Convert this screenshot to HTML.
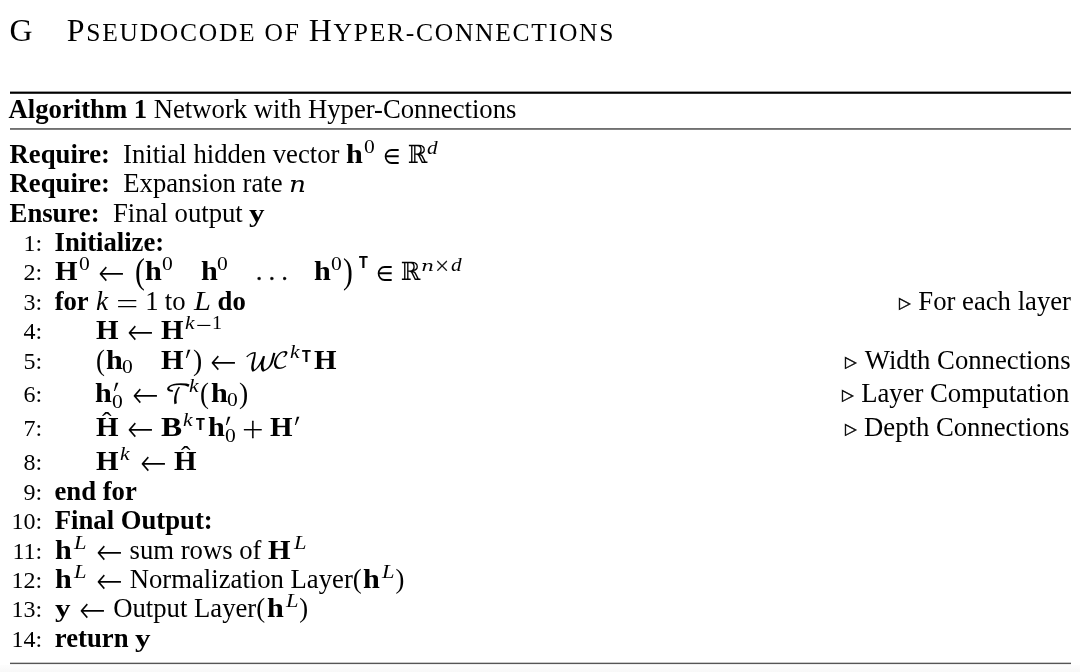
<!DOCTYPE html>
<html lang="en">
<head>
<meta charset="utf-8">
<title>Pseudocode of Hyper-connections</title>
<style>
html,body{margin:0;padding:0;background:#fff;}
body{filter:blur(0.4px);width:1080px;height:672px;position:relative;overflow:hidden;color:#000;
  font-family:"Liberation Serif","DejaVu Serif",serif;font-size:26.5px;}
.ln{position:absolute;left:0;width:1080px;height:30px;line-height:30px;white-space:nowrap;}
.t{position:absolute;top:0;height:30px;line-height:30px;white-space:pre;}
.t>*{line-height:0;}
.rule{position:absolute;left:10px;width:1060.7px;background:#000;}
b{font-weight:bold;}
.g{display:inline-block;line-height:0;transform-origin:0 0;}
h1{position:absolute;margin:0;left:9.5px;top:13px;font-weight:normal;font-size:31.9px;line-height:36px;white-space:nowrap;letter-spacing:1.75px;}
h1 .sc{font-size:25.5px;}
h1 .gap{display:inline-block;width:32.5px;}
.shade{position:absolute;left:0;top:665px;width:1080px;height:7px;background:linear-gradient(#fdfdfd,#f8f8f8);}
.bH{font:bold 27.5px/0 "Liberation Serif","DejaVu Serif",serif;transform:translateY(-0.15px) scale(1.054,1.022) ;}
.bh{font:bold 26.5px/0 "Liberation Serif","DejaVu Serif",serif;transform:translateY(-0.00px) scale(1.141,1.000) ;}
.bB{font:bold 27.5px/0 "Liberation Serif","DejaVu Serif",serif;transform:translateY(-0.15px) scale(1.153,1.022) ;}
.by{font:bold 26.5px/0 "Liberation Serif","DejaVu Serif",serif;transform:translateY(-0.00px) scale(1.176,0.972) ;}
.ik{font:italic 26.5px/0 "Liberation Serif","DejaVu Serif",serif;transform:translateY(-0.15px) scale(1.031,0.995) ;}
.in{font:italic 22.7px/0 "DejaVu Serif",serif;transform:translateY(0.20px) scale(1.165,0.963) ;}
.iL{font:italic 26.5px/0 "Liberation Serif","DejaVu Serif",serif;transform:translateY(-0.35px) scale(1.149,1.034) ;}
.s0{font:18.6px/0 "Liberation Serif","DejaVu Serif",serif;transform:translateY(0.15px) scale(1.161,0.973) ;}
.s1{font:18.6px/0 "Liberation Serif","DejaVu Serif",serif;transform:translateY(0.15px) scale(1.081,0.988) ;}
.sk{font:italic 18.6px/0 "Liberation Serif","DejaVu Serif",serif;transform:translateY(-0.05px) scale(1.150,0.985) ;}
.sn{font:italic 16px/0 "DejaVu Serif",serif;transform:translateY(0.40px) scale(1.275,0.953) ;}
.sd{font:italic 18.6px/0 "Liberation Serif","DejaVu Serif",serif;transform:translateY(-0.00px) scale(1.143,0.996) ;}
.sL{font:italic 18.6px/0 "Liberation Serif","DejaVu Serif",serif;transform:translateY(0.05px) scale(1.210,0.996) ;}
.sx{font:200 18.6px/0 "DejaVu Sans",sans-serif;-webkit-text-stroke:0.25px #000;transform:translateY(1.15px) scale(1.040,1.000) ;}
.sm{font:200 18.6px/0 "DejaVu Sans",sans-serif;transform:translateY(1.80px) scale(1.132,1.467) ;}
.sT{font:bold 17px/0 "Liberation Sans","DejaVu Sans",sans-serif;-webkit-text-stroke:0.2px #000;transform:translateY(-0.10px) scale(0.839,1.008) ;}
.n1{font:26.7px/0 "Liberation Serif","DejaVu Serif",serif;}
.eq{font:200 26.5px/0 "DejaVu Sans",sans-serif;transform:translateY(1.95px) scale(1.099,1.333) ;}
.pl{font:200 26.5px/0 "DejaVu Sans",sans-serif;-webkit-text-stroke:0.25px #000;transform:translateY(1.90px) scale(1.063,1.035) ;}
.ar{font:200 26.5px/0 "DejaVu Sans",sans-serif;transform:translateY(1.65px) scale(1.200,1.371) ;}
.el{font:22px/0 "DejaVu Math TeX Gyre","DejaVu Serif",serif;transform:translateY(-0.70px) scale(0.982,1.086) ;}
.RR{font:24.5px/0 "DejaVu Math TeX Gyre","DejaVu Serif",serif;transform:translateY(-0.25px) scale(0.961,1.028) ;}
.lp{font:29.7px/0 "Liberation Serif","DejaVu Serif",serif;transform:translateY(0.70px) scale(0.903,1.002) ;}
.rp{font:29.7px/0 "Liberation Serif","DejaVu Serif",serif;transform:translateY(0.70px) scale(0.933,1.002) ;}
.Lp{font:36px/0 "Liberation Serif","DejaVu Serif",serif;transform:translateY(2.50px) scale(0.822,1.000) ;}
.Rp{font:36px/0 "Liberation Serif","DejaVu Serif",serif;transform:translateY(2.50px) scale(0.822,1.000) ;}
.pr{font:30px/0 "Liberation Serif","DejaVu Serif",serif;transform:translateY(1.80px) scale(0.880,1.186) skewX(-12deg);}
.cW{font:26.5px/0 "DejaVu Math TeX Gyre","DejaVu Serif",serif;transform:translateY(1.25px) scale(1.016,0.921) ;}
.cC{font:24px/0 "DejaVu Math TeX Gyre","DejaVu Serif",serif;transform:translateY(0.35px) scale(0.993,0.989) ;}
.cT{font:26.5px/0 "DejaVu Math TeX Gyre","DejaVu Serif",serif;transform:translateY(1.60px) scale(0.976,1.002) ;}
.ht{font:27px/0 "Liberation Serif","DejaVu Serif",serif;transform:translateY(-5.45px) scale(1.059,1.050) ;}
.tr{font:16px/0 "DejaVu Sans",sans-serif;-webkit-text-stroke:0.5px #000;transform:translateY(-2.20px) scale(0.946,0.977) ;}
.dt{font:25px/0 "Liberation Serif","DejaVu Serif",serif;letter-spacing:6.5px;-webkit-text-stroke:0.3px #000;}
.no{font:24px/0 "Liberation Serif","DejaVu Serif",serif;}
.tx{font:26.7px/0 "Liberation Serif","DejaVu Serif",serif;}
.tb{font:bold 26.7px/0 "Liberation Serif","DejaVu Serif",serif;}
</style>
</head>
<body>
<h1>G<span class="gap"> </span>P<span class="sc">SEUDOCODE OF </span>H<span class="sc">YPER-CONNECTIONS</span></h1>
<div class="rule" style="top:91px;height:3px;background:linear-gradient(#999 0,#999 1px,#000 1px,#000 2px,#333 2px,#333 3px)"></div>
<div class="rule" style="top:128px;height:2px;background:linear-gradient(#707070 0,#707070 1px,#808080 1px,#808080 2px)"></div>
<div class="ln" style="top:94.00px"> <span class="t" style="left:8.55px"><span class="g tb">Algorithm 1</span></span>  <span class="t" style="left:153.75px"><span class="g tx">Network with Hyper-Connections</span></span> </div>
<div class="ln" style="top:139.00px"> <span class="t" style="left:9.60px"><span class="g tb">Require:</span></span>  <span class="t" style="left:123.00px"><span class="g tx">Initial hidden vector</span></span> <span class="t" style="left:346.15px"><span class="g bh">h</span></span><span class="t" style="left:364.25px;top:-9.80px"><span class="g s0">0</span></span><span class="t" style="left:382.65px"><span class="g el">∈</span></span><span class="t" style="left:406.55px"><span class="g RR">ℝ</span></span><span class="t" style="left:427.35px;top:-9.10px"><span class="g sd">d</span></span></div>
<div class="ln" style="top:168.00px"> <span class="t" style="left:9.60px"><span class="g tb">Require:</span></span>  <span class="t" style="left:123.25px"><span class="g tx">Expansion rate</span></span> <span class="t" style="left:288.95px"><span class="g in">n</span></span></div>
<div class="ln" style="top:198.00px"> <span class="t" style="left:9.60px"><span class="g tb">Ensure:</span></span>  <span class="t" style="left:113.00px"><span class="g tx">Final output</span></span> <span class="t" style="left:249.45px"><span class="g by">y</span></span></div>
<div class="ln" style="top:227.00px"> <span class="t" style="left:23.45px"><span class="g no">1:</span></span>  <span class="t" style="left:54.50px"><span class="g tb">Initialize:</span></span> </div>
<div class="ln" style="top:256.00px"> <span class="t" style="left:23.45px"><span class="g no">2:</span></span> <span class="t" style="left:55.25px"><span class="g bH">H</span></span><span class="t" style="left:79.25px;top:-9.80px"><span class="g s0">0</span></span><span class="t" style="left:98.20px"><span class="g ar">←</span></span><span class="t" style="left:135.45px"><span class="g Lp">(</span></span><span class="t" style="left:145.45px"><span class="g bh">h</span></span><span class="t" style="left:162.15px;top:-9.80px"><span class="g s0">0</span></span><span class="t" style="left:200.65px"><span class="g bh">h</span></span><span class="t" style="left:217.45px;top:-9.80px"><span class="g s0">0</span></span><span class="t" style="left:256.00px"><span class="g dt">...</span></span><span class="t" style="left:314.25px"><span class="g bh">h</span></span><span class="t" style="left:331.15px;top:-9.80px"><span class="g s0">0</span></span><span class="t" style="left:343.20px"><span class="g Rp">)</span></span><span class="t" style="left:358.60px;top:-12.40px"><span class="g sT">T</span></span><span class="t" style="left:376.25px"><span class="g el">∈</span></span><span class="t" style="left:400.15px"><span class="g RR">ℝ</span></span><span class="t" style="left:420.50px;top:-8.90px"><span class="g sn">n</span></span><span class="t" style="left:433.80px;top:-8.90px"><span class="g sx">×</span></span><span class="t" style="left:450.75px;top:-8.90px"><span class="g sd">d</span></span></div>
<div class="ln" style="top:286.00px"> <span class="t" style="left:23.45px"><span class="g no">3:</span></span>  <span class="t" style="left:54.65px"><span class="g tb">for</span></span> <span class="t" style="left:95.95px"><span class="g ik">k</span></span><span class="t" style="left:115.30px"><span class="g eq">=</span></span><span class="t" style="left:145.25px"><span class="g n1">1</span></span> <span class="t" style="left:164.75px"><span class="g tx">to</span></span> <span class="t" style="left:194.45px"><span class="g iL">L</span></span> <span class="t" style="left:217.60px"><span class="g tb">do</span></span>  <span class="t" style="left:899.25px"><span class="g tr">▷</span></span>  <span class="t" style="left:918.35px"><span class="g tx">For each layer</span></span> </div>
<div class="ln" style="top:315.00px"> <span class="t" style="left:23.45px"><span class="g no">4:</span></span> <span class="t" style="left:95.70px"><span class="g bH">H</span></span><span class="t" style="left:126.70px"><span class="g ar">←</span></span><span class="t" style="left:160.70px"><span class="g bH">H</span></span><span class="t" style="left:185.30px;top:-9.80px"><span class="g sk">k</span></span><span class="t" style="left:195.25px;top:-9.80px"><span class="g sm">−</span></span><span class="t" style="left:212.45px;top:-9.80px"><span class="g s1">1</span></span></div>
<div class="ln" style="top:345.00px"> <span class="t" style="left:23.45px"><span class="g no">5:</span></span> <span class="t" style="left:96.25px"><span class="g lp">(</span></span><span class="t" style="left:105.95px"><span class="g bh">h</span></span><span class="t" style="left:122.25px;top:4.00px"><span class="g s0">0</span></span><span class="t" style="left:161.20px"><span class="g bH">H</span></span><span class="t" style="left:183.80px"><span class="g pr">′</span></span><span class="t" style="left:192.55px"><span class="g rp">)</span></span><span class="t" style="left:210.20px"><span class="g ar">←</span></span><span class="t" style="left:243.55px"><span class="g cW">𝒲</span></span><span class="t" style="left:271.70px"><span class="g cC">𝒞</span></span><span class="t" style="left:289.70px;top:-11.00px"><span class="g sk">k</span></span><span class="t" style="left:302.20px;top:-7.00px"><span class="g sT">T</span></span><span class="t" style="left:314.30px"><span class="g bH">H</span></span> <span class="t" style="left:845.25px"><span class="g tr">▷</span></span>  <span class="t" style="left:864.80px"><span class="g tx">Width Connections</span></span> </div>
<div class="ln" style="top:378.00px"> <span class="t" style="left:23.45px"><span class="g no">6:</span></span> <span class="t" style="left:95.45px"><span class="g bh">h</span></span><span class="t" style="left:112.20px"><span class="g pr">′</span></span><span class="t" style="left:112.35px;top:6.40px"><span class="g s0">0</span></span><span class="t" style="left:131.50px"><span class="g ar">←</span></span><span class="t" style="left:164.70px"><span class="g cT">𝒯</span></span><span class="t" style="left:188.70px;top:-9.80px"><span class="g sk">k</span></span><span class="t" style="left:200.45px"><span class="g lp">(</span></span><span class="t" style="left:210.95px"><span class="g bh">h</span></span><span class="t" style="left:227.45px;top:4.00px"><span class="g s0">0</span></span><span class="t" style="left:239.25px"><span class="g rp">)</span></span> <span class="t" style="left:842.25px"><span class="g tr">▷</span></span>  <span class="t" style="left:861.15px"><span class="g tx">Layer Computation</span></span> </div>
<div class="ln" style="top:412.00px"> <span class="t" style="left:23.45px"><span class="g no">7:</span></span> <span class="t" style="left:95.70px"><span class="g bH">H</span></span><span class="t" style="left:102.15px"><span class="g ht">ˆ</span></span><span class="t" style="left:126.80px"><span class="g ar">←</span></span><span class="t" style="left:160.70px"><span class="g bB">B</span></span><span class="t" style="left:183.20px;top:-9.80px"><span class="g sk">k</span></span><span class="t" style="left:195.60px;top:-5.60px"><span class="g sT">T</span></span><span class="t" style="left:207.55px"><span class="g bh">h</span></span><span class="t" style="left:223.80px"><span class="g pr">′</span></span><span class="t" style="left:224.55px;top:6.40px"><span class="g s0">0</span></span><span class="t" style="left:241.45px"><span class="g pl">+</span></span><span class="t" style="left:269.80px"><span class="g bH">H</span></span><span class="t" style="left:292.70px"><span class="g pr">′</span></span> <span class="t" style="left:845.25px"><span class="g tr">▷</span></span>  <span class="t" style="left:864.05px"><span class="g tx">Depth Connections</span></span> </div>
<div class="ln" style="top:446.00px"> <span class="t" style="left:23.45px"><span class="g no">8:</span></span> <span class="t" style="left:95.70px"><span class="g bH">H</span></span><span class="t" style="left:119.80px;top:-9.80px"><span class="g sk">k</span></span><span class="t" style="left:139.80px"><span class="g ar">←</span></span><span class="t" style="left:174.20px"><span class="g bH">H</span></span><span class="t" style="left:180.65px"><span class="g ht">ˆ</span></span></div>
<div class="ln" style="top:476.00px"> <span class="t" style="left:23.45px"><span class="g no">9:</span></span>  <span class="t" style="left:54.50px"><span class="g tb">end for</span></span> </div>
<div class="ln" style="top:505.00px"> <span class="t" style="left:11.45px"><span class="g no">10:</span></span>  <span class="t" style="left:54.75px"><span class="g tb">Final Output:</span></span> </div>
<div class="ln" style="top:535.00px"> <span class="t" style="left:12.45px"><span class="g no">11:</span></span> <span class="t" style="left:55.00px"><span class="g bh">h</span></span><span class="t" style="left:73.85px;top:-9.80px"><span class="g sL">L</span></span><span class="t" style="left:95.50px"><span class="g ar">←</span></span> <span class="t" style="left:129.50px"><span class="g tx">sum rows of</span></span> <span class="t" style="left:268.25px"><span class="g bH">H</span></span><span class="t" style="left:294.00px;top:-9.80px"><span class="g sL">L</span></span></div>
<div class="ln" style="top:564.00px"> <span class="t" style="left:11.45px"><span class="g no">12:</span></span> <span class="t" style="left:55.00px"><span class="g bh">h</span></span><span class="t" style="left:73.85px;top:-9.80px"><span class="g sL">L</span></span><span class="t" style="left:95.50px"><span class="g ar">←</span></span> <span class="t" style="left:129.75px"><span class="g tx">Normalization Layer(</span></span> <span class="t" style="left:363.00px"><span class="g bh">h</span></span><span class="t" style="left:382.25px;top:-9.80px"><span class="g sL">L</span></span> <span class="t" style="left:395.50px"><span class="g tx">)</span></span> </div>
<div class="ln" style="top:593.00px"> <span class="t" style="left:11.45px"><span class="g no">13:</span></span> <span class="t" style="left:55.25px"><span class="g by">y</span></span><span class="t" style="left:79.30px"><span class="g ar">←</span></span> <span class="t" style="left:113.20px"><span class="g tx">Output Layer(</span></span> <span class="t" style="left:266.75px"><span class="g bh">h</span></span><span class="t" style="left:286.00px;top:-9.80px"><span class="g sL">L</span></span> <span class="t" style="left:299.25px"><span class="g tx">)</span></span> </div>
<div class="ln" style="top:623.00px"> <span class="t" style="left:11.45px"><span class="g no">14:</span></span>  <span class="t" style="left:54.85px"><span class="g tb">return</span></span> <span class="t" style="left:134.75px"><span class="g by">y</span></span></div>
<div class="rule" style="top:662px;height:3px;background:linear-gradient(#c8c8c8 0,#c8c8c8 1px,#555 1px,#555 2px,#eee 2px,#eee 3px)"></div>
<div class="shade"></div>
</body>
</html>
